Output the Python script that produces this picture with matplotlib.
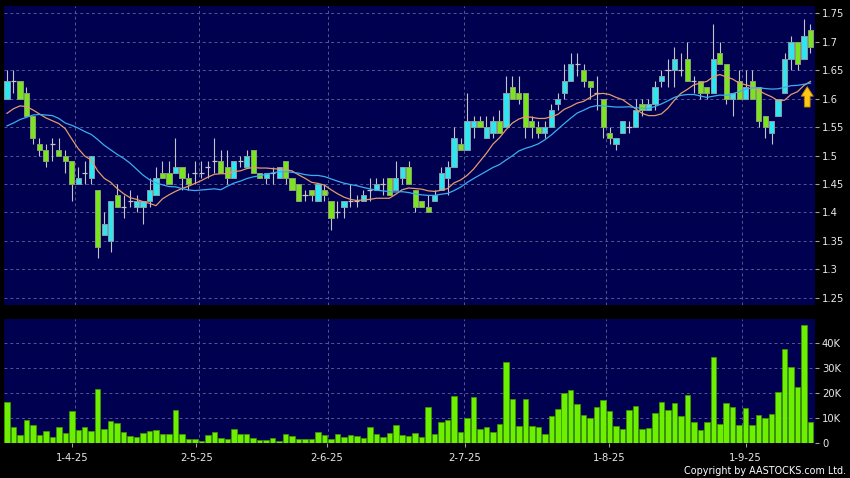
import numpy as np
import matplotlib.pyplot as plt
from matplotlib.ticker import FuncFormatter

# daily candles, oldest first (HKD)
opens = [1.60, 1.63, 1.63, 1.61, 1.57, 1.52, 1.51, 1.52, 1.51, 1.50,
         1.49, 1.45, 1.47, 1.46, 1.44, 1.36, 1.35, 1.43, 1.41, 1.42,
         1.41, 1.41, 1.42, 1.43, 1.47, 1.47, 1.47, 1.48, 1.46, 1.47,
         1.47, 1.48, 1.49, 1.49, 1.48, 1.46, 1.49, 1.48, 1.51, 1.47,
         1.46, 1.47, 1.46, 1.49, 1.46, 1.45, 1.43, 1.44, 1.42, 1.44,
         1.42, 1.40, 1.41, 1.42, 1.42, 1.42, 1.44, 1.44, 1.45, 1.46,
         1.44, 1.46, 1.48, 1.44, 1.42, 1.41, 1.42, 1.44, 1.46, 1.48,
         1.52, 1.51, 1.55, 1.56, 1.53, 1.54, 1.56, 1.55, 1.62, 1.61,
         1.61, 1.56, 1.55, 1.54, 1.55, 1.59, 1.61, 1.63, 1.66, 1.65,
         1.63, 1.61, 1.60, 1.54, 1.52, 1.54, 1.55, 1.55, 1.59, 1.58,
         1.59, 1.63, 1.65, 1.65, 1.65, 1.67, 1.63, 1.63, 1.62, 1.61,
         1.68, 1.66, 1.60, 1.63, 1.60, 1.63, 1.62, 1.57, 1.54, 1.57,
         1.61, 1.67, 1.70, 1.67, 1.72]
highs = [1.65, 1.65, 1.63, 1.62, 1.57, 1.53, 1.52, 1.53, 1.53, 1.51,
         1.49, 1.48, 1.49, 1.50, 1.44, 1.40, 1.42, 1.45, 1.43, 1.44,
         1.43, 1.42, 1.46, 1.48, 1.49, 1.49, 1.53, 1.48, 1.47, 1.49,
         1.49, 1.49, 1.53, 1.51, 1.51, 1.49, 1.50, 1.51, 1.51, 1.47,
         1.47, 1.48, 1.48, 1.49, 1.46, 1.45, 1.44, 1.44, 1.45, 1.45,
         1.42, 1.42, 1.42, 1.45, 1.43, 1.44, 1.46, 1.46, 1.46, 1.46,
         1.49, 1.48, 1.49, 1.44, 1.42, 1.43, 1.44, 1.48, 1.49, 1.55,
         1.53, 1.61, 1.57, 1.57, 1.57, 1.57, 1.58, 1.64, 1.64, 1.64,
         1.61, 1.57, 1.56, 1.56, 1.59, 1.61, 1.66, 1.68, 1.68, 1.66,
         1.63, 1.64, 1.60, 1.55, 1.53, 1.56, 1.56, 1.60, 1.60, 1.60,
         1.63, 1.65, 1.67, 1.69, 1.68, 1.70, 1.64, 1.63, 1.62, 1.73,
         1.70, 1.66, 1.61, 1.65, 1.65, 1.65, 1.62, 1.57, 1.56, 1.60,
         1.68, 1.71, 1.70, 1.74, 1.73]
lows = [1.60, 1.61, 1.60, 1.57, 1.52, 1.50, 1.48, 1.49, 1.50, 1.47,
        1.42, 1.45, 1.45, 1.45, 1.32, 1.36, 1.33, 1.41, 1.39, 1.41,
        1.40, 1.38, 1.41, 1.43, 1.46, 1.45, 1.47, 1.44, 1.44, 1.45,
        1.46, 1.46, 1.47, 1.47, 1.45, 1.46, 1.48, 1.48, 1.47, 1.46,
        1.45, 1.45, 1.46, 1.45, 1.44, 1.42, 1.42, 1.42, 1.42, 1.42,
        1.37, 1.39, 1.39, 1.41, 1.41, 1.42, 1.42, 1.44, 1.43, 1.43,
        1.44, 1.45, 1.45, 1.40, 1.41, 1.40, 1.42, 1.44, 1.43, 1.48,
        1.51, 1.51, 1.53, 1.55, 1.53, 1.53, 1.54, 1.55, 1.60, 1.59,
        1.53, 1.53, 1.53, 1.53, 1.55, 1.58, 1.60, 1.63, 1.64, 1.62,
        1.60, 1.58, 1.53, 1.52, 1.51, 1.54, 1.54, 1.55, 1.57, 1.58,
        1.58, 1.62, 1.62, 1.62, 1.64, 1.63, 1.61, 1.60, 1.60, 1.61,
        1.66, 1.59, 1.57, 1.60, 1.60, 1.60, 1.55, 1.53, 1.52, 1.57,
        1.61, 1.65, 1.65, 1.67, 1.68]
closes = [1.63, 1.63, 1.60, 1.57, 1.53, 1.51, 1.49, 1.52, 1.50, 1.49,
          1.45, 1.46, 1.47, 1.50, 1.34, 1.38, 1.42, 1.41, 1.41, 1.42,
          1.42, 1.42, 1.44, 1.46, 1.46, 1.45, 1.48, 1.46, 1.45, 1.47,
          1.47, 1.48, 1.49, 1.47, 1.46, 1.49, 1.49, 1.50, 1.47, 1.46,
          1.47, 1.47, 1.48, 1.46, 1.44, 1.42, 1.43, 1.43, 1.45, 1.43,
          1.39, 1.40, 1.42, 1.42, 1.42, 1.43, 1.44, 1.45, 1.45, 1.43,
          1.46, 1.48, 1.45, 1.41, 1.41, 1.40, 1.43, 1.47, 1.48, 1.53,
          1.51, 1.56, 1.56, 1.55, 1.55, 1.56, 1.54, 1.61, 1.60, 1.60,
          1.55, 1.55, 1.54, 1.55, 1.58, 1.60, 1.63, 1.66, 1.66, 1.63,
          1.62, 1.61, 1.55, 1.53, 1.53, 1.56, 1.55, 1.58, 1.58, 1.59,
          1.62, 1.64, 1.65, 1.67, 1.65, 1.63, 1.63, 1.61, 1.61, 1.67,
          1.66, 1.60, 1.61, 1.60, 1.62, 1.60, 1.56, 1.55, 1.56, 1.60,
          1.67, 1.70, 1.66, 1.71, 1.69]

# moving averages as drawn on the chart
ma10 = [1.574, 1.582, 1.587, 1.586, 1.580, 1.573, 1.566, 1.561, 1.556, 1.547,
        1.529, 1.512, 1.499, 1.492, 1.473, 1.460, 1.453, 1.442, 1.433, 1.426,
        1.423, 1.419, 1.416, 1.412, 1.424, 1.431, 1.437, 1.442, 1.446, 1.451,
        1.456, 1.462, 1.467, 1.468, 1.468, 1.472, 1.473, 1.477, 1.479, 1.478,
        1.478, 1.477, 1.476, 1.475, 1.473, 1.466, 1.460, 1.453, 1.451, 1.448,
        1.440, 1.433, 1.427, 1.423, 1.421, 1.422, 1.423, 1.425, 1.425, 1.425,
        1.432, 1.440, 1.443, 1.442, 1.441, 1.438, 1.437, 1.439, 1.442, 1.452,
        1.457, 1.465, 1.476, 1.490, 1.504, 1.520, 1.531, 1.545, 1.557, 1.564,
        1.568, 1.567, 1.565, 1.565, 1.568, 1.572, 1.581, 1.586, 1.592, 1.595,
        1.602, 1.608, 1.609, 1.607, 1.602, 1.598, 1.590, 1.582, 1.574, 1.570,
        1.570, 1.573, 1.583, 1.597, 1.609, 1.616, 1.624, 1.627, 1.630, 1.638,
        1.642, 1.638, 1.634, 1.627, 1.624, 1.621, 1.614, 1.608, 1.603, 1.596,
        1.597, 1.607, 1.612, 1.623, 1.630]
ma20 = [1.552, 1.557, 1.563, 1.567, 1.571, 1.572, 1.571, 1.570, 1.565, 1.557,
        1.553, 1.548, 1.542, 1.537, 1.528, 1.518, 1.510, 1.502, 1.495, 1.4865,
        1.476, 1.4655, 1.4575, 1.452, 1.4485, 1.4455, 1.445, 1.442, 1.4395, 1.4385,
        1.4395, 1.4405, 1.4415, 1.440, 1.446, 1.4515, 1.455, 1.4595, 1.4625, 1.4645,
        1.467, 1.4695, 1.4715, 1.4715, 1.4705, 1.469, 1.4665, 1.465, 1.465, 1.463,
        1.459, 1.455, 1.4515, 1.449, 1.447, 1.444, 1.4415, 1.439, 1.438, 1.4365,
        1.436, 1.4365, 1.435, 1.4325, 1.431, 1.430, 1.430, 1.432, 1.4335, 1.4385,
        1.4445, 1.4525, 1.4595, 1.466, 1.4725, 1.479, 1.484, 1.492, 1.4995, 1.508,
        1.5125, 1.516, 1.5205, 1.5275, 1.536, 1.546, 1.556, 1.5655, 1.5745, 1.5795,
        1.585, 1.5875, 1.587, 1.586, 1.585, 1.585, 1.5855, 1.584, 1.583, 1.5825,
        1.586, 1.5905, 1.596, 1.602, 1.6055, 1.607, 1.607, 1.6045, 1.602, 1.604,
        1.606, 1.6055, 1.6085, 1.612, 1.6165, 1.6185, 1.619, 1.6175, 1.6165, 1.617,
        1.6195, 1.6225, 1.623, 1.625, 1.627]

# volume in thousands of shares
volume_k = [16.5, 6.5, 3.2, 9.2, 7.5, 3.5, 4.8, 2.5, 6.5, 4.1,
            12.8, 5.2, 6.4, 4.8, 21.7, 5.9, 8.8, 8.1, 4.4, 2.8,
            2.4, 4.1, 5.1, 5.5, 3.6, 3.6, 13.1, 3.6, 1.9, 1.6,
            0.9, 3.2, 4.7, 2.3, 1.6, 5.6, 3.7, 3.7, 2.3, 1.2,
            1.2, 2.0, 0.8, 3.6, 3.1, 1.7, 1.7, 1.7, 4.4, 3.5,
            1.9, 3.9, 2.4, 3.2, 3.1, 2.1, 6.4, 3.7, 2.7, 4.0,
            7.5, 3.5, 2.8, 4.0, 2.5, 14.4, 3.6, 8.4, 9.2, 18.8,
            4.7, 10.1, 18.3, 5.6, 6.4, 4.4, 7.6, 32.4, 17.5, 6.9,
            17.5, 6.9, 6.7, 3.9, 11.0, 13.6, 20.0, 21.3, 15.7, 11.1,
            10.0, 14.4, 17.2, 12.8, 7.1, 5.9, 13.1, 14.7, 5.6, 6.1,
            12.1, 16.5, 13.1, 15.9, 10.8, 19.1, 8.4, 5.2, 8.4, 34.3,
            7.9, 15.9, 14.4, 7.3, 13.9, 7.5, 11.1, 10.1, 11.5, 20.4,
            37.6, 30.3, 22.3, 47.2, 8.4]

date_labels = ['1-4-25', '2-5-25', '2-6-25', '2-7-25', '1-8-25', '1-9-25']
date_pos = [10, 29.2, 49.4, 70.7, 92.9, 114]
grid_pos = [10.5, 29.6, 49.6, 70.6, 92.5, 113.5]
price_ticks = [1.25, 1.3, 1.35, 1.4, 1.45, 1.5, 1.55, 1.6, 1.65, 1.7, 1.75]
vol_ticks = [0, 10, 20, 30, 40]

NAVY = '#000050'
GRID = '#56568f'
TXT = '#e8e8e8'
CYAN = '#2ee6f0'
GREEN = '#7ae41e'
WICK = '#c4c4c4'

o = np.array(opens)
h = np.array(highs)
l = np.array(lows)
c = np.array(closes)
x = np.arange(len(c))

fig = plt.figure(figsize=(8.5, 4.78), dpi=100, facecolor='black')
ax = fig.add_axes([4 / 850, 1 - 305 / 478, 811 / 850, 299 / 478])
axv = fig.add_axes([4 / 850, 1 - 443.3 / 478, 811 / 850, 124.3 / 478], sharex=ax)

for a in (ax, axv):
    a.set_facecolor(NAVY)
    for s in a.spines.values():
        s.set_visible(False)
    a.yaxis.tick_right()
    a.tick_params(axis='y', length=3, width=0.8, color='#a0a0a0', pad=2,
                  labelsize=7.2, labelcolor=TXT)
    a.grid(True, which='major', axis='y', color=GRID, lw=0.7, ls=(0, (3, 3)))
    a.grid(True, which='minor', axis='x', color=GRID, lw=0.7, ls=(0, (3, 3)))
    a.set_axisbelow(True)

# candles
up = c > o
down = c < o
flat = c == o
bw = 0.8
ax.vlines(x, l, h, color=WICK, lw=0.8, zorder=2)
ax.bar(x[up], (c - o)[up], bottom=o[up], width=bw, color=CYAN,
       edgecolor='#8c9ca4', lw=0.7, zorder=3)
ax.bar(x[down], (o - c)[down], bottom=c[down], width=bw, color=GREEN,
       edgecolor='#8ca070', lw=0.7, zorder=3)
ax.hlines(c[flat], x[flat] - bw / 2, x[flat] + bw / 2, color=WICK, lw=0.9, zorder=3)

ax.plot(x, ma10, color='#e49a6c', lw=0.9, zorder=4)
ax.plot(x, ma20, color='#3aaef0', lw=0.9, zorder=4)

# signal arrow
ax.arrow(123.5, 1.585, 0, 0.036, width=0.9, head_width=1.9, head_length=0.017,
         length_includes_head=True, fc='#ffc814', ec='#b07a00', lw=0.6, zorder=5)

ax.set_ylim(1.2377, 1.7623)
ax.set_yticks(price_ticks)
ax.yaxis.set_major_formatter(FuncFormatter(lambda v, p: f'{v:g}'))

# volume
axv.bar(x, volume_k, width=0.85, color='#6cf000', edgecolor='#3f9a00', lw=0.5, zorder=3)
axv.set_ylim(0, 49.6)
axv.set_yticks(vol_ticks)
axv.yaxis.set_major_formatter(FuncFormatter(lambda v, p: '0' if v == 0 else f'{v:g}K'))

axv.set_xlim(-0.46, 124.7)
axv.set_xticks(date_pos, date_labels)
axv.set_xticks(grid_pos, minor=True)
axv.tick_params(axis='x', which='major', length=3, width=0.8, color='#a0a0a0',
                pad=4, labelsize=7.2, labelcolor=TXT)
axv.tick_params(axis='x', which='minor', length=0)
ax.tick_params(axis='x', which='both', length=0, labelbottom=False)

fig.text(846 / 850, 1 - 471 / 478, 'Copyright by AASTOCKS.com Ltd.', ha='right',
         va='center', color='white', fontsize=6.9)

fig.savefig('out.png', dpi=100, facecolor='black')
